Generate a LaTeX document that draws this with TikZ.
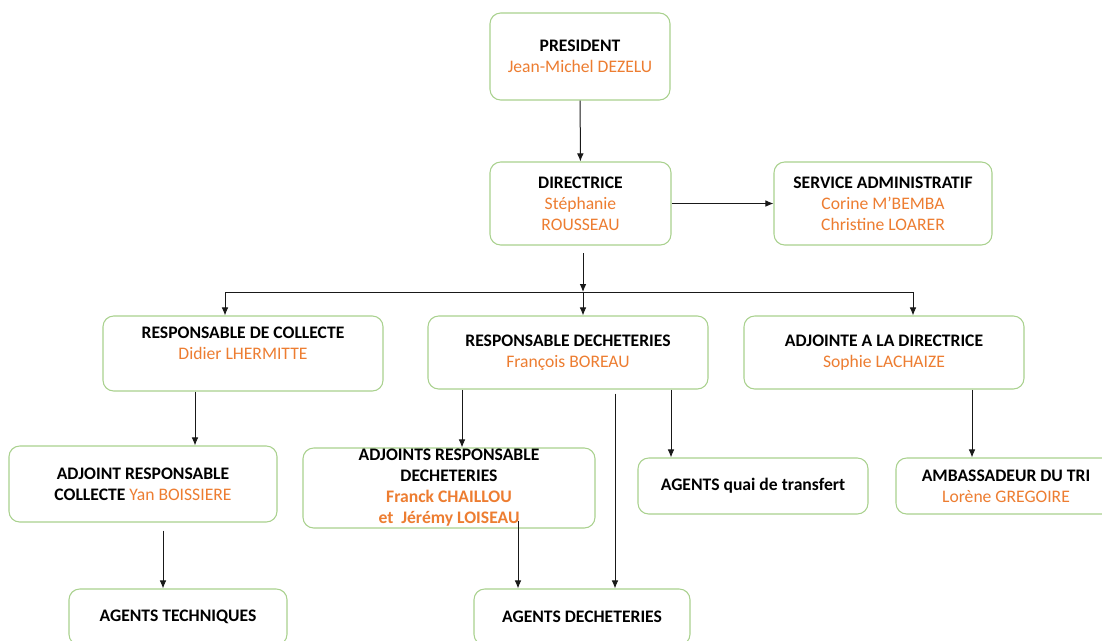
\documentclass[tikz,border=0pt]{standalone}
\usepackage{fontspec}
\setmainfont{Carlito}
\usetikzlibrary{arrows.meta}
\definecolor{boxgreen}{RGB}{169,209,142}
\definecolor{nameorange}{RGB}{237,125,49}
\newcommand{\who}[1]{\textcolor{nameorange}{#1}}
\begin{document}
\begin{tikzpicture}[x=0.75pt,y=-0.75pt,
  poste/.style={draw=boxgreen, line width=0.8pt, rounded corners=8pt, fill=white,
    align=center, inner sep=0pt, font=\fontsize{13.2}{15.75}\selectfont},
  lien/.style={draw=black!90, line width=0.75pt, -{Latex[length=6pt,width=5pt]}},
  trait/.style={draw=black!90, line width=0.75pt}]
\useasboundingbox (0,0) rectangle (1102,640);
% direction
\node[poste, minimum width=135pt, minimum height=65.25pt] (PRES) at (580,56.5)
  {\textbf{PRESIDENT}\\\who{Jean-Michel DEZELU}};
\node[poste, minimum width=135.75pt, minimum height=62.25pt] (DIR) at (580.5,203.5)
  {\textbf{DIRECTRICE}\\\who{Stéphanie}\\\who{ROUSSEAU}};
\node[poste, minimum width=163.5pt, minimum height=62.25pt] (SA) at (883,203.5)
  {\textbf{SERVICE ADMINISTRATIF}\\\who{Corine M'BEMBA}\\\who{Christine LOARER}};
% responsables
\node[poste, minimum width=210pt, minimum height=56.25pt] (RC) at (243,353.5)
  {\textbf{RESPONSABLE DE COLLECTE}\\\who{Didier LHERMITTE}\\\mbox{}};
\node[poste, minimum width=210pt, minimum height=54.75pt] (RD) at (568,352.5)
  {\textbf{RESPONSABLE DECHETERIES}\\\who{François BOREAU}};
\node[poste, minimum width=210pt, minimum height=54.75pt] (ADJ) at (884,352.5)
  {\textbf{ADJOINTE A LA DIRECTRICE}\\\who{Sophie LACHAIZE}};
% adjoints
\node[poste, minimum width=201pt, minimum height=57pt] (ARC) at (143,484)
  {\textbf{ADJOINT RESPONSABLE}\\\textbf{COLLECTE} \who{Yan BOISSIERE}};
\node[poste, minimum width=219pt, minimum height=60pt] (ARD) at (449,488)
  {\textbf{ADJOINTS RESPONSABLE}\\\textbf{DECHETERIES}\\\textbf{\who{Franck CHAILLOU}}\\\textbf{\who{et~ Jérémy LOISEAU}}};
\node[poste, minimum width=172.5pt, minimum height=42pt] (AQ) at (753,486)
  {\textbf{AGENTS quai de transfert}};
\node[poste, minimum width=165pt, minimum height=42pt] (AMB) at (1006,486)
  {\textbf{AMBASSADEUR DU TRI}\\\who{Lorène GREGOIRE}};
% agents
\node[poste, minimum width=163.5pt, minimum height=42pt] (AT) at (178,617)
  {\textbf{AGENTS TECHNIQUES}};
\node[poste, minimum width=162pt, minimum height=42pt] (AD) at (582,617)
  {\textbf{AGENTS DECHETERIES}};
% liens
\coordinate (dirout) at (583,253);
\coordinate (busL) at (225,292);
\coordinate (busC) at (583,292);
\coordinate (busR) at (913,292);
\draw[lien] (PRES) -- (DIR);
\draw[lien] (DIR) -- (SA);
\draw[lien] (dirout) -- (busC);
\draw[trait] (busL) -- (busR);
\draw[lien] (busL) -- (busL |- RC.north);
\draw[lien] (busC) -- (busC |- RD.north);
\draw[lien] (busR) -- (busR |- ADJ.north);
\draw[lien] (RC.south -| 195,0) -- (ARC.north -| 195,0);
\draw[lien, shorten <=6pt] (ARC.south -| 163,0) -- (AT.north -| 163,0);
\draw[lien] (RD.south -| 462,0) -- (ARD.north -| 462,0);
\draw[lien, shorten <=3pt] (RD.south -| 615,0) -- (AD.north -| 615,0);
\draw[lien] (RD.south -| 671,0) -- (AQ.north -| 671,0);
\draw[lien, shorten <=-6pt] (ARD.south -| 518,0) -- (AD.north -| 518,0);
\draw[lien] (ADJ.south -| 972,0) -- (AMB.north -| 972,0);
\end{tikzpicture}
\end{document}
